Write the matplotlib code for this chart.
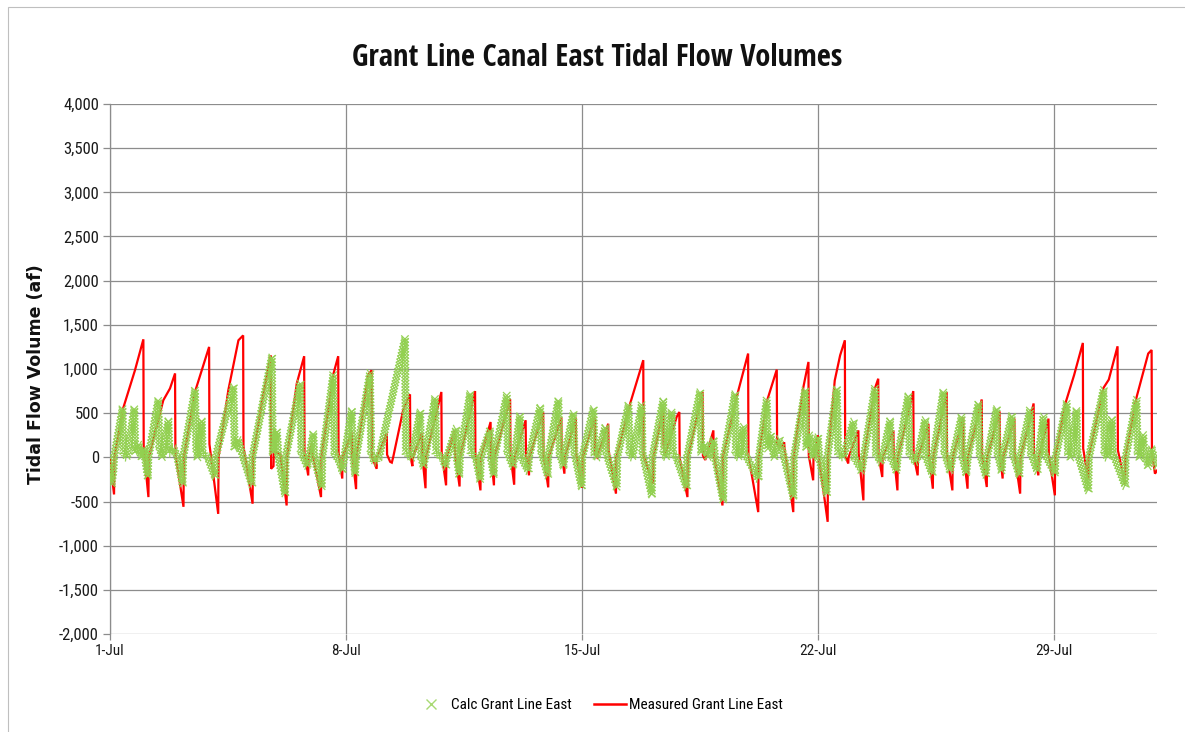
import numpy as np
import matplotlib
matplotlib.use("Agg")
import matplotlib.pyplot as plt
from matplotlib import patheffects as pe
from matplotlib import font_manager as fm
from matplotlib.lines import Line2D
from matplotlib.patches import Rectangle

# ---------------------------------------------------------------- data
title = "Grant Line Canal East Tidal Flow Volumes"
y_label = "Tidal Flow Volume (af)"
calc_name = "Calc Grant Line East"
measured_name = "Measured Grant Line East"

x_tick_days = [0, 7, 14, 21, 28]
x_tick_labels = ["1-Jul", "8-Jul", "15-Jul", "22-Jul", "29-Jul"]
y_ticks = [-2000, -1500, -1000, -500, 0, 500, 1000, 1500, 2000, 2500, 3000, 3500, 4000]

# Measured tidal volume (af); time in days after 1-Jul 00:00
measured_days = [
    0.00, 0.12, 0.13, 0.39, 0.74, 0.99, 1.00, 1.14, 1.15, 1.58, 1.78, 1.93, 1.94,
    2.18, 2.19, 2.52, 2.94, 2.95, 3.21, 3.22, 3.51, 3.81, 3.95, 3.96, 4.23, 4.24,
    4.50, 4.77, 4.78, 4.85, 4.86, 5.05, 5.24, 5.25, 5.54, 5.76, 5.77, 5.88, 5.89,
    5.98, 5.99, 6.26, 6.27, 6.63, 6.77, 6.78, 6.89, 6.90, 7.17, 7.18, 7.30, 7.31,
    7.66, 7.76, 7.77, 7.91, 7.92, 8.21, 8.22, 8.31, 8.36, 8.40, 8.70, 8.90, 8.91,
    8.97, 8.98, 9.25, 9.26, 9.36, 9.37, 9.83, 9.84, 9.97, 9.98, 10.23, 10.24,
    10.37, 10.38, 10.83, 10.84, 10.99, 11.00, 11.29, 11.30, 11.39, 11.40, 11.87,
    11.88, 11.99, 12.00, 12.33, 12.34, 12.43, 12.44, 12.85, 12.86, 13.00, 13.01,
    13.39, 13.40, 13.48, 13.49, 13.82, 13.83, 14.01, 14.02, 14.38, 14.39, 14.45,
    14.78, 14.79, 15.01, 15.02, 15.43, 15.82, 15.83, 16.11, 16.12, 16.41, 16.42,
    16.46, 16.81, 16.89, 16.90, 17.13, 17.14, 17.58, 17.59, 17.66, 17.90, 17.91,
    18.17, 18.18, 18.59, 18.93, 18.94, 19.23, 19.24, 19.48, 19.78, 19.79, 19.95,
    20.00, 20.01, 20.27, 20.28, 20.57, 20.72, 20.73, 20.86, 20.87, 21.00, 21.01,
    21.29, 21.30, 21.50, 21.66, 21.80, 21.81, 21.90, 21.91, 22.20, 22.21, 22.35,
    22.36, 22.69, 22.79, 22.80, 22.91, 22.92, 23.24, 23.25, 23.36, 23.37, 23.83,
    23.84, 23.96, 23.97, 24.28, 24.29, 24.41, 24.42, 24.82, 24.83, 24.99, 25.00,
    25.31, 25.32, 25.44, 25.45, 25.86, 25.87, 26.01, 26.02, 26.39, 26.40, 26.48,
    26.49, 26.83, 26.84, 27.00, 27.01, 27.40, 27.41, 27.54, 27.55, 27.84, 27.85,
    28.03, 28.04, 28.35, 28.60, 28.86, 28.87, 29.02, 29.03, 29.47, 29.63, 29.89,
    29.90, 30.11, 30.12, 30.45, 30.80, 30.90, 30.91, 31.00, 31.06,
]
measured_vals = [
    -30, -420, 0, 555, 985, 1336, 100, -450, 0, 645, 780, 950, 40,
    -560, 0, 740, 1250, 150, -640, 0, 760, 1325, 1380, 120, -525, 0,
    610, 1155, -130, -100, 60, 40, -545, 0, 835, 1145, 50, -205, 0,
    155, 80, -450, 0, 948, 1145, 50, -240, 0, 280, 50, -360, 0,
    930, 985, 5, -130, 0, 270, 30, -50, -60, 0, 540, 713, 20,
    -100, 0, 270, 30, -350, 0, 740, 40, -317, 0, 305, 30,
    -330, 0, 750, 30, -374, 0, 400, 30, -317, 0, 660,
    30, -310, 0, 420, 30, -204, 0, 510, 30, -340, 0,
    450, 30, -185, 0, 450, 30, -345, 0, 450, 30, 0,
    380, 80, -411, 0, 608, 1100, 20, -300, 0, 560, 150,
    20, 457, 513, -10, -450, 0, 740, 20, -30, 305, 40,
    -545, 0, 683, 1175, 20, -620, 0, 626, 993, 150, 120,
    170, 100, -620, 0, 796, 1080, 20, -260, 0, 250, 50,
    -730, 0, 870, 1155, 1325, 20, -70, 0, 305, 40, -487,
    0, 778, 890, 20, -223, 0, 305, 40, -374, 0, 750,
    20, -204, 0, 380, 40, -355, 0, 740, 20, -374, 0,
    450, 40, -355, 0, 655, 20, -336, 0, 520, 40, -240,
    0, 440, 20, -411, 0, 610, 40, -204, 0, 438, 20,
    -430, 0, 620, 930, 1295, 100, -250, 0, 785, 880, 1257,
    80, -300, 0, 675, 1175, 1215, 50, -185, -150,
]

# Calculated tidal volume (af)
calc_days = [
    0.00, 0.05, 0.10, 0.12, 0.37, 0.40, 0.50, 0.72, 0.75, 0.85, 0.95, 1.00, 1.12,
    1.14, 1.43, 1.47, 1.55, 1.73, 1.76, 1.90, 2.00, 2.15, 2.17, 2.52, 2.56, 2.60,
    2.72, 2.75, 2.90, 3.11, 3.13, 3.66, 3.70, 3.80, 3.95, 4.20, 4.22, 4.80, 4.83,
    4.95, 5.00, 5.19, 5.21, 5.64, 5.68, 5.85, 5.90, 6.03, 6.06, 6.28, 6.30, 6.62,
    6.66, 6.80, 6.89, 6.95, 7.17, 7.20, 7.27, 7.30, 7.71, 7.75, 7.85, 7.98, 8.75,
    8.78, 8.95, 9.20, 9.23, 9.30, 9.35, 9.64, 9.68, 9.85, 9.95, 10.00, 10.26,
    10.29, 10.36, 10.38, 10.68, 10.72, 10.85, 10.98, 11.00, 11.27, 11.30, 11.38,
    11.40, 11.77, 11.80, 11.95, 12.00, 12.16, 12.20, 12.40, 12.43, 12.76, 12.80,
    12.98, 13.00, 13.30, 13.34, 13.45, 13.48, 13.74, 13.78, 13.99, 14.01, 14.34,
    14.37, 14.45, 14.69, 14.72, 15.03, 15.05, 15.38, 15.42, 15.50, 15.77, 15.80,
    16.07, 16.09, 16.41, 16.44, 16.50, 16.66, 16.70, 16.80, 17.10, 17.12, 17.50,
    17.54, 17.65, 17.75, 17.90, 17.95, 18.19, 18.21, 18.54, 18.57, 18.65, 18.79,
    18.82, 19.23, 19.25, 19.48, 19.52, 19.60, 19.70, 19.85, 20.00, 20.27, 20.29,
    20.62, 20.66, 20.75, 20.85, 21.00, 21.04, 21.26, 21.28, 21.56, 21.60, 21.75,
    22.05, 22.08, 22.30, 22.36, 22.69, 22.72, 22.85, 22.92, 23.14, 23.17, 23.33,
    23.37, 23.68, 23.72, 23.90, 23.96, 24.18, 24.21, 24.38, 24.42, 24.72, 24.76,
    24.92, 25.00, 25.26, 25.29, 25.40, 25.45, 25.76, 25.80, 25.98, 26.02, 26.30,
    26.33, 26.45, 26.48, 26.75, 26.78, 26.97, 27.00, 27.29, 27.32, 27.50, 27.54,
    27.69, 27.72, 28.03, 28.05, 28.38, 28.42, 28.50, 28.67, 28.70, 29.02, 29.04,
    29.47, 29.51, 29.58, 29.72, 29.75, 30.11, 30.13, 30.45, 30.49, 30.55, 30.65,
    30.68, 30.80, 30.90, 31.05,
]
calc_vals = [
    -100, -300, -150, 0, 550, 50, 0, 550, 50, 150, 0, 100, -220,
    0, 645, 100, 0, 420, 50, 100, 0, -300, 0, 760, 100, 0,
    420, 50, 0, -220, 0, 800, 100, 200, 0, -300, 0, 1136, 50,
    300, 0, -411, 0, 835, 50, -100, 0, 268, 0, -336, 0, 930,
    50, -50, -150, 0, 532, 50, -185, 0, 948, 50, -50, 0, 1345,
    50, 0, 513, 0, -100, 0, 665, 50, 0, -100, 0, 320,
    0, -200, 0, 720, 50, 0, -250, 0, 305, 0, -200,
    0, 700, 50, -100, 0, 475, 0, -150, 0, 570, 50,
    -200, 0, 645, 50, -100, 0, 495, 50, -336, 0, 550,
    50, 0, 343, 50, -336, 0, 590, 50, 0, 590, 50,
    -430, 0, 645, 50, 0, 513, 50, 0, -336, 0, 740,
    50, 150, 0, 200, 0, -487, 0, 720, 50, 0, 343,
    50, -240, 0, 645, 100, 250, 0, 200, 0, -450, 0,
    760, 100, 250, 0, 230, 0, -411, 0, 778, 50, 0,
    400, 0, -150, 0, 778, 50, -50, 0, 420, 0, -150,
    0, 700, 50, -50, 0, 420, 0, -180, 0, 740, 50,
    -150, 0, 457, 0, -180, 0, 608, 50, -200, 0, 550,
    50, -150, 0, 475, 50, -200, 0, 532, 50, -150, 0,
    457, 50, -185, 0, 608, 50, 0, 532, 50, -374, 0,
    760, 50, 0, 438, 50, -317, 0, 645, 50, 0, 250,
    50, -100, 100, -110,
]

# ---------------------------------------------------------------- fonts
def pick_font(bold):
    """Prefer a narrow sans face (closest to a Calibri-like width)."""
    stretch_rank = {"semi-condensed": 0, "condensed": 1, "extra-condensed": 3}
    family_rank = ["Noto Sans", "Open Sans", "Roboto", "Liberation Sans", "DejaVu Sans"]
    best = None
    for f in fm.fontManager.ttflist:
        if f.style != "normal":
            continue
        w = f.weight if isinstance(f.weight, int) else (700 if "bold" in str(f.weight) else 400)
        if bold and w != 700:
            continue
        if not bold and w != 400:
            continue
        st = str(f.stretch)
        narrow_name = ("Narrow" in f.name) or ("Condensed" in f.name)
        if st not in stretch_rank and not narrow_name:
            continue
        srank = stretch_rank.get(st, 1)
        frank = next((i for i, fam in enumerate(family_rank) if f.name.startswith(fam)), 9)
        key = (srank, frank)
        if best is None or key < best[0]:
            best = (key, f.fname)
    if best is not None:
        return fm.FontProperties(fname=best[1])
    return fm.FontProperties(family="Lato", weight="bold" if bold else "normal")

font_reg = pick_font(False)
font_bold = pick_font(True)

def fp(base, size):
    p = base.copy()
    p.set_size(size)
    return p

# ---------------------------------------------------------------- figure
RED = "#FF0000"
GREEN = "#92D050"
GRID = "#8C8C8C"

fig = plt.figure(figsize=(11.85, 7.32), dpi=100)
fig.patch.set_facecolor("white")

# chart-area frame (its right and bottom edges lie outside the image)
fig.add_artist(Rectangle((8 / 1185, -10 / 732), 1200 / 1185, 735 / 732,
                         transform=fig.transFigure, fill=False,
                         edgecolor="#BFBFBF", linewidth=0.8, clip_on=False))

ax = fig.add_axes([110 / 1185, 1 - 634 / 732, 1047 / 1185, 530 / 732])
ax.set_xlim(0, 31.06)
ax.set_ylim(-2000, 4000)

ax.plot(measured_days, measured_vals, color=RED, linewidth=1.6, zorder=3,
        solid_joinstyle="miter")

# calculated series: cross marks laid densely along its trace
calc_line, = ax.plot(calc_days, calc_vals, color=GREEN, linewidth=0.8, alpha=0.6,
                     zorder=4)
cross = dict(spacing=2.3, length=1.45, linewidth=0.9, foreground=GREEN, alpha=0.95)
calc_line.set_path_effects([pe.TickedStroke(angle=a, **cross)
                            for a in (45, 135, -45, -135)])

ax.set_yticks(y_ticks)
ax.set_yticklabels([f"{v:,}" for v in y_ticks])
ax.set_xticks(x_tick_days)
ax.set_xticklabels(x_tick_labels)

ax.grid(True, color=GRID, linewidth=0.9, zorder=0)
ax.set_axisbelow(True)
for side in ("top", "right", "bottom"):
    ax.spines[side].set_visible(False)
ax.spines["left"].set_color(GRID)
ax.spines["left"].set_linewidth(0.9)

ax.tick_params(axis="y", length=5, width=0.9, color=GRID, pad=3)
ax.tick_params(axis="x", length=4, width=0.9, color=GRID, pad=3)
for lab in ax.get_yticklabels():
    lab.set_fontproperties(fp(font_reg, 12))
    lab.set_color("#1a1a1a")
for lab in ax.get_xticklabels():
    lab.set_fontproperties(fp(font_reg, 11))
    lab.set_color("#1a1a1a")

ax.set_ylabel(y_label, fontsize=12.5, fontweight="bold", family="DejaVu Sans",
              color="#111111")
ax.yaxis.set_label_coords(-0.062, 0.49)

fig.text(597 / 1185, 1 - 58 / 732, title, ha="center", va="center",
         fontproperties=fp(font_bold, 22), color="#111111")

handles = [
    Line2D([], [], linestyle="none", marker="x", markersize=7, markeredgewidth=1.0,
           color=GREEN, alpha=0.8),
    Line2D([], [], color=RED, linewidth=1.8),
]
fig.legend(handles, [calc_name, measured_name], loc="center",
           bbox_to_anchor=(599 / 1185, 1 - 705 / 732), ncol=2, frameon=False,
           prop=fp(font_reg, 11), handlelength=2.1,
           columnspacing=1.45, handletextpad=0.25)

fig.savefig("out.png", dpi=100, facecolor="white")
